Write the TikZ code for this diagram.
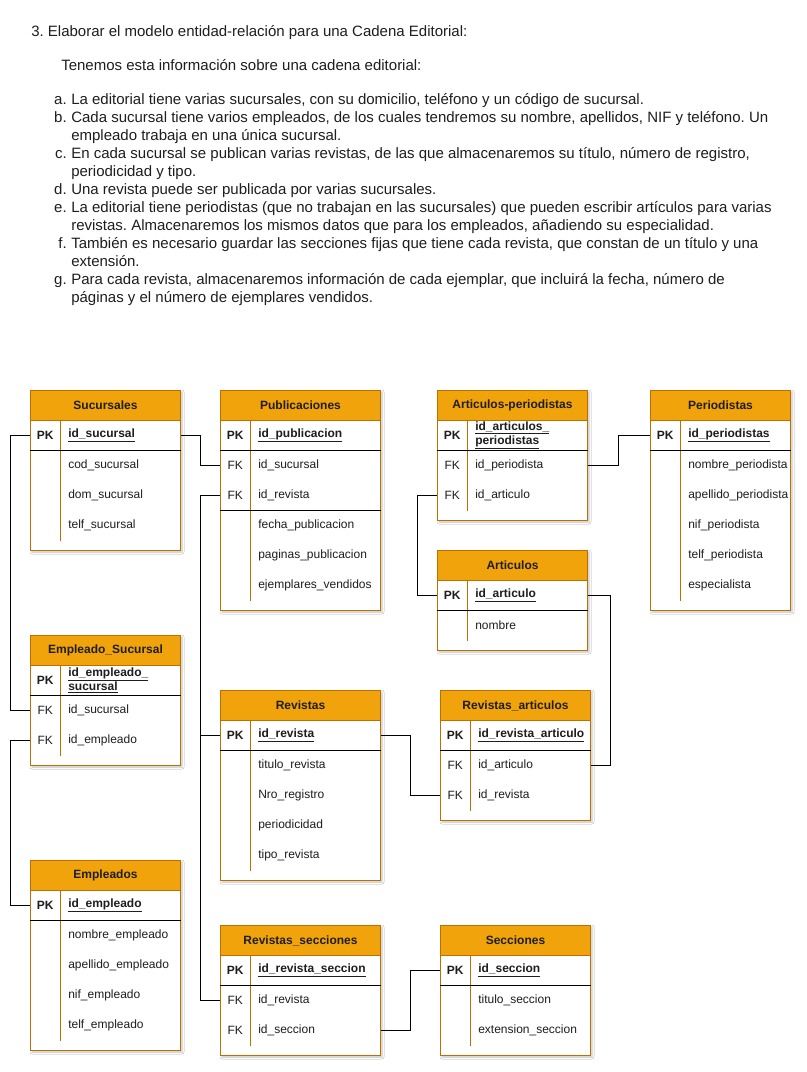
\documentclass[tikz,border=0pt]{standalone}
\usepackage{fontspec}
\setmainfont{Liberation Sans}
\usetikzlibrary{shadows.blur}
\frenchspacing
\definecolor{naranja}{HTML}{F0A30A}
\definecolor{bordeN}{HTML}{BD7000}
\definecolor{texto}{HTML}{1E1E1E}
% tabla: id, x, y, ancho, alto, titulo
\newcommand\tabla[6]{%
  \draw[borde, fill=white, sombra] (#2,#3) rectangle ++(#4,#5);
  \node[cabecera, anchor=north west, minimum width=#4*0.75pt] (#1) at (#2,#3) {#6};
}
% fila: id, x, y, ancho, clave, campo
\newcommand\fila[6]{%
  \pgfmathsetlengthmacro\anchocampo{(#4-30-16)*0.75pt}%
  \node[clave, anchor=north west] (#1-k) at (#2,#3) {#5};
  \node[campo, anchor=north west, text width=\anchocampo] (#1) at (#2+30,#3) {#6};
}
\begin{document}
\begin{tikzpicture}[x=0.75pt,y=-0.75pt,
  cabecera/.style={draw=bordeN, line width=0.75pt, fill=naranja, minimum height=22.5pt, inner sep=0pt, text=texto, font=\fontsize{9}{10.5}\selectfont\bfseries},
  clave/.style={minimum width=22.5pt, minimum height=22.5pt, inner sep=0pt, text=texto, font=\fontsize{9}{10.5}\selectfont},
  campo/.style={minimum height=22.5pt, inner xsep=6pt, inner ysep=0pt, align=left, text=texto, font=\fontsize{9}{10.5}\selectfont},
  borde/.style={draw=bordeN, line width=0.75pt},
  raya/.style={draw=black, line width=0.75pt},
  enlace/.style={draw=black, line width=0.75pt},
  sombra/.style={blur shadow={shadow xshift=1.5pt, shadow yshift=-1.5pt, shadow blur radius=1.5pt, shadow opacity=25}},
  parrafo/.style={inner sep=0pt, text=texto, font=\fontsize{11.25}{13.5}\selectfont}]
\useasboundingbox (0,0) rectangle (807,1072);
\fill[white] (0,0) rectangle (807,1072);

% enunciado
\node[parrafo, anchor=base west] (titulo) at (31,36) {3. Elaborar el modelo entidad-relación para una Cadena Editorial:};
\node[parrafo, anchor=base west] (intro) at (61,70.5) {Tenemos esta información sobre una cadena editorial:};
\node[parrafo, anchor=base east] (la) at (67,104.5) {a.};
\node[parrafo, anchor=base east] (lb) at (67,122.5) {b.};
\node[parrafo, anchor=base east] (lc) at (67,158.5) {c.};
\node[parrafo, anchor=base east] (ld) at (67,194.5) {d.};
\node[parrafo, anchor=base east] (le) at (67,212.5) {e.};
\node[parrafo, anchor=base east] (lf) at (67,248.5) {f.};
\node[parrafo, anchor=base east] (lg) at (67,284.5) {g.};
\node[parrafo, anchor=base west] (ta) at (71,104.5) {La editorial tiene varias sucursales, con su domicilio, teléfono y un código de sucursal.};
\node[parrafo, anchor=base west] (tb1) at (71,122.5) {Cada sucursal tiene varios empleados, de los cuales tendremos su nombre, apellidos, NIF y teléfono. Un};
\node[parrafo, anchor=base west] (tb2) at (71,140.5) {empleado trabaja en una única sucursal.};
\node[parrafo, anchor=base west] (tc1) at (71,158.5) {En cada sucursal se publican varias revistas, de las que almacenaremos su título, número de registro,};
\node[parrafo, anchor=base west] (tc2) at (71,176.5) {periodicidad y tipo.};
\node[parrafo, anchor=base west] (td) at (71,194.5) {Una revista puede ser publicada por varias sucursales.};
\node[parrafo, anchor=base west] (te1) at (71,212.5) {La editorial tiene periodistas (que no trabajan en las sucursales) que pueden escribir artículos para varias};
\node[parrafo, anchor=base west] (te2) at (71,230.5) {revistas. Almacenaremos los mismos datos que para los empleados, añadiendo su especialidad.};
\node[parrafo, anchor=base west] (tf1) at (71,248.5) {También es necesario guardar las secciones fijas que tiene cada revista, que constan de un título y una};
\node[parrafo, anchor=base west] (tf2) at (71,266.5) {extensión.};
\node[parrafo, anchor=base west] (tg1) at (71,284.5) {Para cada revista, almacenaremos información de cada ejemplar, que incluirá la fecha, número de};
\node[parrafo, anchor=base west] (tg2) at (71,302.5) {páginas y el número de ejemplares vendidos.};

% Sucursales
\tabla{suc}{30}{390}{150}{160}{Sucursales}
\fila{suc1}{30}{420}{150}{\textbf{PK}}{\textbf{\underline{id\_sucursal}}}
\foreach \t [count=\i from 2] in {cod\_sucursal,dom\_sucursal,telf\_sucursal}
  {\fila{suc\i}{30}{390+30*\i}{150}{}{\t}}
\draw[borde] (suc1-k.north east) -- (suc4-k.south east);
\draw[raya] (suc1-k.south west) -- (suc1.south east);

% Publicaciones
\tabla{pub}{220}{390}{160}{220}{Publicaciones}
\fila{pub1}{220}{420}{160}{\textbf{PK}}{\textbf{\underline{id\_publicacion}}}
\foreach \c/\t [count=\i from 2] in {FK/id\_sucursal,FK/id\_revista,/fecha\_publicacion,/paginas\_publicacion,/ejemplares\_vendidos}
  {\fila{pub\i}{220}{390+30*\i}{160}{\c}{\t}}
\draw[borde] (pub1-k.north east) -- (pub6-k.south east);
\draw[raya] (pub1-k.south west) -- (pub1.south east);
\draw[raya] (pub3-k.south west) -- (pub3.south east);

% Articulos-periodistas
\tabla{ap}{437}{390}{150}{130}{Articulos-periodistas}
\fila{ap1}{437}{420}{150}{\textbf{PK}}{\textbf{\underline{id\_articulos\_}}\\\textbf{\underline{periodistas}}}
\foreach \c/\t [count=\i from 2] in {FK/id\_periodista,FK/id\_articulo}
  {\fila{ap\i}{437}{390+30*\i}{150}{\c}{\t}}
\draw[borde] (ap1-k.north east) -- (ap3-k.south east);
\draw[raya] (ap1-k.south west) -- (ap1.south east);

% Periodistas
\tabla{per}{650}{390}{140}{220}{Periodistas}
\fila{per1}{650}{420}{140}{\textbf{PK}}{\textbf{\underline{id\_periodistas}}}
\foreach \t [count=\i from 2] in {nombre\_periodista,apellido\_periodista,nif\_periodista,telf\_periodista,especialista}
  {\fila{per\i}{650}{390+30*\i}{140}{}{\t}}
\draw[borde] (per1-k.north east) -- (per6-k.south east);
\draw[raya] (per1-k.south west) -- (per1.south east);

% Articulos
\tabla{art}{437}{550}{150}{100}{Articulos}
\fila{art1}{437}{580}{150}{\textbf{PK}}{\textbf{\underline{id\_articulo}}}
\fila{art2}{437}{610}{150}{}{nombre}
\draw[borde] (art1-k.north east) -- (art2-k.south east);
\draw[raya] (art1-k.south west) -- (art1.south east);

% Empleado_Sucursal
\tabla{es}{30}{635}{150}{130}{Empleado\_Sucursal}
\fila{es1}{30}{665}{150}{\textbf{PK}}{\textbf{\underline{id\_empleado\_}}\\\textbf{\underline{sucursal}}}
\foreach \c/\t [count=\i from 2] in {FK/id\_sucursal,FK/id\_empleado}
  {\fila{es\i}{30}{635+30*\i}{150}{\c}{\t}}
\draw[borde] (es1-k.north east) -- (es3-k.south east);
\draw[raya] (es1-k.south west) -- (es1.south east);

% Revistas
\tabla{rev}{220}{690}{160}{190}{Revistas}
\fila{rev1}{220}{720}{160}{\textbf{PK}}{\textbf{\underline{id\_revista}}}
\foreach \t [count=\i from 2] in {titulo\_revista,Nro\_registro,periodicidad,tipo\_revista}
  {\fila{rev\i}{220}{690+30*\i}{160}{}{\t}}
\draw[borde] (rev1-k.north east) -- (rev5-k.south east);
\draw[raya] (rev1-k.south west) -- (rev1.south east);

% Revistas_articulos
\tabla{ra}{440}{690}{150}{130}{Revistas\_articulos}
\fila{ra1}{440}{720}{150}{\textbf{PK}}{\textbf{\underline{id\_revista\_articulo}}}
\foreach \c/\t [count=\i from 2] in {FK/id\_articulo,FK/id\_revista}
  {\fila{ra\i}{440}{690+30*\i}{150}{\c}{\t}}
\draw[borde] (ra1-k.north east) -- (ra3-k.south east);
\draw[raya] (ra1-k.south west) -- (ra1.south east);

% Empleados
\tabla{emp}{30}{860}{150}{190}{Empleados}
\fila{emp1}{30}{890}{150}{\textbf{PK}}{\textbf{\underline{id\_empleado}}}
\foreach \t [count=\i from 2] in {nombre\_empleado,apellido\_empleado,nif\_empleado,telf\_empleado}
  {\fila{emp\i}{30}{860+30*\i}{150}{}{\t}}
\draw[borde] (emp1-k.north east) -- (emp5-k.south east);
\draw[raya] (emp1-k.south west) -- (emp1.south east);

% Revistas_secciones
\tabla{rs}{220}{925}{160}{130}{Revistas\_secciones}
\fila{rs1}{220}{955}{160}{\textbf{PK}}{\textbf{\underline{id\_revista\_seccion}}}
\foreach \c/\t [count=\i from 2] in {FK/id\_revista,FK/id\_seccion}
  {\fila{rs\i}{220}{925+30*\i}{160}{\c}{\t}}
\draw[borde] (rs1-k.north east) -- (rs3-k.south east);
\draw[raya] (rs1-k.south west) -- (rs1.south east);

% Secciones
\tabla{sec}{440}{925}{150}{130}{Secciones}
\fila{sec1}{440}{955}{150}{\textbf{PK}}{\textbf{\underline{id\_seccion}}}
\foreach \t [count=\i from 2] in {titulo\_seccion,extension\_seccion}
  {\fila{sec\i}{440}{925+30*\i}{150}{}{\t}}
\draw[borde] (sec1-k.north east) -- (sec3-k.south east);
\draw[raya] (sec1-k.south west) -- (sec1.south east);

% relaciones
\draw[enlace] (suc1.east) -- ++(20,0) |- (pub2-k.west);
\draw[enlace] (suc1-k.west) -- ++(-20,0) |- (es2-k.west);
\draw[enlace] (es3-k.west) -- ++(-20,0) |- (emp1-k.west);
\draw[enlace] (rev1-k.west) -- ++(-20,0) |- (pub3-k.west);
\draw[enlace] (rev1-k.west) -- ++(-20,0) |- (rs2-k.west);
\draw[enlace] (rev1.east) -- ++(30,0) |- (ra3-k.west);
\draw[enlace] (art1.east) -- ++(23,0) |- (ra2.east);
\draw[enlace] (art1-k.west) -- ++(-20,0) |- (ap3-k.west);
\draw[enlace] (ap2.east) -- ++(31,0) |- (per1-k.west);
\draw[enlace] (rs3.east) -- ++(30,0) |- (sec1-k.west);
\end{tikzpicture}
\end{document}
